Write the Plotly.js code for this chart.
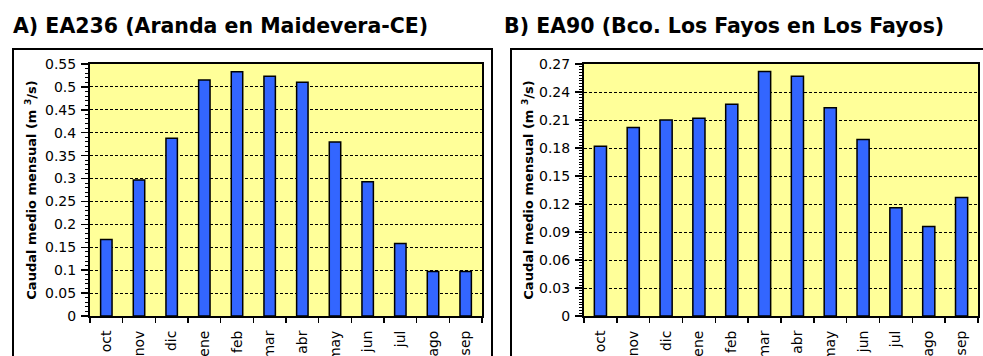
<!DOCTYPE html>
<html>
<head>
<meta charset="utf-8">
<script src="https://cdn.plot.ly/plotly-3.0.1.min.js"></script>
<style>html,body{margin:0;padding:0;background:#fff;}#chart{width:983px;height:356px;}</style>
</head>
<body>
<div id="chart"></div>
<script>
const months = ["oct","nov","dic","ene","feb","mar","abr","may","jun","jul","ago","sep"];
const caudalEA236 = [0.167, 0.297, 0.388, 0.515, 0.533, 0.523, 0.510, 0.380, 0.293, 0.158, 0.097, 0.097];
const caudalEA90 = [0.182, 0.202, 0.210, 0.212, 0.227, 0.262, 0.257, 0.223, 0.189, 0.116, 0.096, 0.127];
const titleA = "A) EA236 (Aranda en Maidevera-CE)";
const titleB = "B) EA90 (Bco. Los Fayos en Los Fayos)";
const yTitle = "Caudal medio mensual (m <sup>3</sup>/s)";

const W = 983, H = 356;
const px = v => v / W;
const py = v => 1 - v / H;
const FONT = "DejaVu Sans, Liberation Sans, Arial, sans-serif";

const barStyle = {color: "#3366FF", line: {color: "#000000", width: 1.5}};

const traces = [
  {type: "bar", x: months, y: caudalEA236, xaxis: "x", yaxis: "y", width: 0.35, marker: barStyle, hoverinfo: "x+y"},
  {type: "bar", x: months, y: caudalEA90, xaxis: "x2", yaxis: "y2", width: 0.37, marker: barStyle, hoverinfo: "x+y"}
];

function xAxis(domain, anchor) {
  return {
    domain: domain, anchor: anchor, type: "category",
    showline: true, linecolor: "#000", linewidth: 2, mirror: true,
    ticks: "outside", ticklen: 5, tickwidth: 1.5, tickcolor: "#000", tickson: "boundaries",
    ticklabelstandoff: 7,
    tickangle: -90, tickfont: {family: FONT, size: 14, color: "#000"},
    showgrid: false, zeroline: false, fixedrange: true
  };
}
function yAxis(anchor, range, dtick, minorDtick, standoff) {
  return {
    domain: [py(316), py(64)], anchor: anchor, range: range, dtick: dtick, tick0: 0,
    showline: true, linecolor: "#000", linewidth: 2, mirror: true,
    ticks: "outside", ticklen: 7, tickwidth: 1.5, tickcolor: "#000",
    minor: {dtick: minorDtick, ticks: "outside", ticklen: 3, tickwidth: 1, tickcolor: "#000", showgrid: false},
    tickfont: {family: FONT, size: 14, color: "#000"},
    ticklabelstandoff: 2,
    showgrid: true, gridcolor: "#000", gridwidth: 1, griddash: "3px,2px",
    zeroline: false, fixedrange: true,
    title: {text: yTitle, font: {family: FONT, size: 13, color: "#000", weight: "bold"}, standoff: standoff}
  };
}

const layout = {
  width: W, height: H,
  margin: {l: 0, r: 0, t: 0, b: 0},
  paper_bgcolor: "#fff", plot_bgcolor: "#FFFF99",
  showlegend: false, bargap: 0.6,
  xaxis: xAxis([px(90), px(482)], "y"),
  yaxis: yAxis("x", [0, 0.55], 0.05, 0.01, 5),
  xaxis2: xAxis([px(584), px(978)], "y2"),
  yaxis2: yAxis("x2", [0, 0.27], 0.03, 0.003, 2),
  shapes: [
    {type: "rect", xref: "paper", yref: "paper", x0: px(13), x1: px(492), y0: -0.05, y1: py(49), line: {color: "#000", width: 2}, layer: "below"},
    {type: "rect", xref: "paper", yref: "paper", x0: px(511), x1: 1.02, y0: -0.05, y1: py(49), line: {color: "#000", width: 2}, layer: "below"}
  ],
  annotations: [
    {text: "<b>" + titleA + "</b>", xref: "paper", yref: "paper", x: px(11), y: py(26), xanchor: "left", yanchor: "middle", showarrow: false, font: {family: FONT, size: 20.5, color: "#000"}},
    {text: "<b>" + titleB + "</b>", xref: "paper", yref: "paper", x: px(502), y: py(26), xanchor: "left", yanchor: "middle", showarrow: false, font: {family: FONT, size: 20.5, color: "#000"}}
  ]
};

Plotly.newPlot("chart", traces, layout, {displayModeBar: false, staticPlot: true});
</script>
</body>
</html>
